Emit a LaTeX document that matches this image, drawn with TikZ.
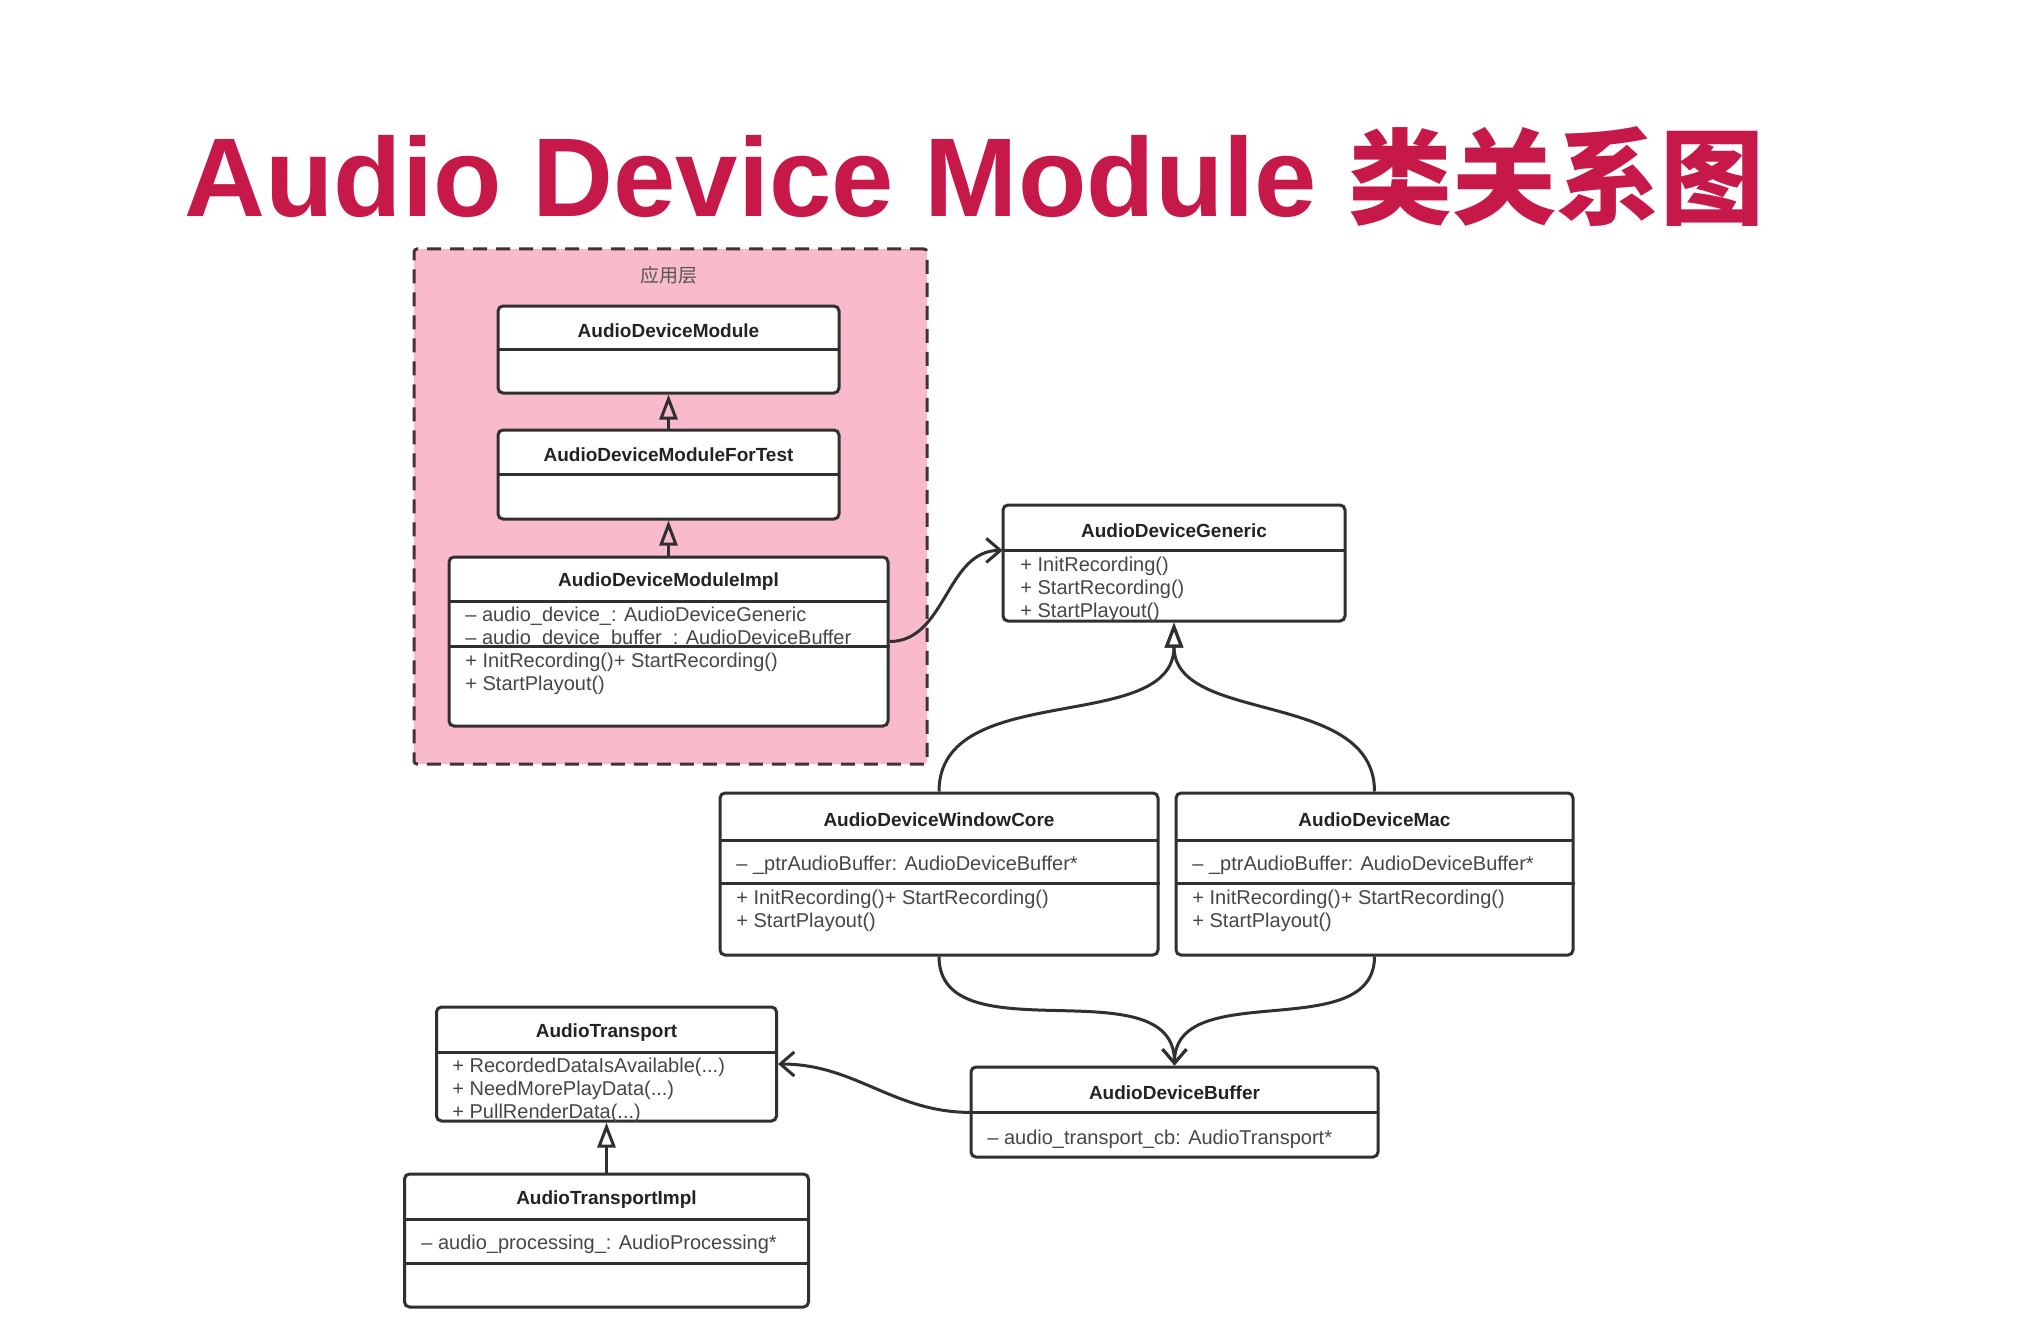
\documentclass[tikz,border=0pt]{standalone}
\usepackage{fontspec}
\setmainfont{Liberation Sans}
\newfontfamily\cjk{Noto Sans CJK SC}
\usetikzlibrary{arrows.meta}
\definecolor{titlered}{RGB}{199,24,74}
\definecolor{layerpink}{RGB}{249,187,204}
\definecolor{dashline}{RGB}{70,48,56}
\definecolor{layertext}{RGB}{85,85,85}
\definecolor{boxline}{RGB}{48,48,48}
\definecolor{hdrtext}{RGB}{35,35,35}
\definecolor{memtext}{RGB}{70,70,70}

\tikzset{
    cls/.style={draw=boxline, line width=1.5pt, rounded corners=2.5pt, fill=white, inner sep=0pt},
    hdr/.style={inner sep=0pt, font=\fontsize{9.5}{11}\selectfont\bfseries, text=hdrtext},
    hdrtxt/.style={yshift=-1.5pt},
    mem/.style={inner sep=0pt, anchor=west, align=left, font=\fontsize{10}{11.5}\selectfont, text=memtext},
    divider/.style={draw=boxline, line width=1.5pt},
    inherit/.style={draw=boxline, line width=1.5pt, -{Triangle[open, width=9pt, length=12.5pt]}},
    assoc/.style={draw=boxline, line width=1.5pt, -{Straight Barb[length=7pt, width=12pt]}},
}

\begin{document}
\begin{tikzpicture}[x=0.5pt, y=-0.5pt]
    \useasboundingbox (0,0) rectangle (2028,1332);
    \fill[white] (0,0) rectangle (2028,1332);

    \node[anchor=base west, inner sep=0pt, text=titlered, font=\fontsize{56}{60}\selectfont\bfseries] (title) at (184,217) {Audio Device Module {\cjk\fontsize{52}{60}\selectfont 类关系图}};

    \node[draw=dashline, fill=layerpink, line width=1.5pt, dash pattern=on 7pt off 4.5pt, rounded corners=1.5pt, minimum width=256.5pt, minimum height=257.5pt] (app) at (670.5,506.5) {};
    \node[text=layertext, font=\cjk\fontsize{9.5}{11}\selectfont] (applabel) at (669,275) {应用层};

    \node[cls, minimum width=170.5pt, minimum height=43.5pt] (adm) at (668.5,349.5) {};
    \node[hdr, minimum width=170.5pt, minimum height=21.5pt] (adm-h) at (668.5,327.5) {};
    \node[hdr, hdrtxt] (adm-t) at (adm-h) {AudioDeviceModule};
    \draw[divider] (adm-h.south west) -- (adm-h.south east);

    \node[cls, minimum width=170.5pt, minimum height=44.5pt] (admtest) at (668.5,474.5) {};
    \node[hdr, minimum width=170.5pt, minimum height=22pt] (admtest-h) at (668.5,452) {};
    \node[hdr, hdrtxt] (admtest-t) at (admtest-h) {AudioDeviceModuleForTest};
    \draw[divider] (admtest-h.south west) -- (admtest-h.south east);

    \node[cls, minimum width=219.5pt, minimum height=84.5pt] (admimpl) at (668.5,641.5) {};
    \node[hdr, minimum width=219.5pt, minimum height=22pt] (admimpl-h) at (668.5,579) {};
    \node[hdr, hdrtxt] (admimpl-t) at (admimpl-h) {AudioDeviceModuleImpl};
    \node[mem] (admimpl-a) at (465,627.5) {– audio\_device\_: AudioDeviceGeneric\\– audio\_device\_buffer\_: AudioDeviceBuffer};
    \node[mem] (admimpl-m) at (465,674) {+ InitRecording()+ StartRecording()\\+ StartPlayout()};
    \draw[divider] (admimpl-h.south west) -- (admimpl-h.south east);
    \draw[divider] (admimpl.west |- 0,646) -- (admimpl.east |- 0,646);

    \node[cls, minimum width=171pt, minimum height=58pt] (gen) at (1174,563) {};
    \node[hdr, minimum width=171pt, minimum height=22.5pt] (gen-h) at (1174,527.5) {};
    \node[hdr, hdrtxt] (gen-t) at (gen-h) {AudioDeviceGeneric};
    \node[mem] (gen-m) at (1020,589.5) {+ InitRecording()\\+ StartRecording()\\+ StartPlayout()};
    \draw[divider] (gen-h.south west) -- (gen-h.south east);

    \node[cls, minimum width=219pt, minimum height=81pt] (wincore) at (939,874) {};
    \node[hdr, minimum width=219pt, minimum height=23.5pt] (wincore-h) at (939,816.5) {};
    \node[hdr, hdrtxt] (wincore-t) at (wincore-h) {AudioDeviceWindowCore};
    \node[mem] (wincore-a) at (736,865) {– \_ptrAudioBuffer: AudioDeviceBuffer*};
    \node[mem] (wincore-m) at (736,911) {+ InitRecording()+ StartRecording()\\+ StartPlayout()};
    \draw[divider] (wincore-h.south west) -- (wincore-h.south east);
    \draw[divider] (wincore.west |- 0,883) -- (wincore.east |- 0,883);

    \node[cls, minimum width=198.5pt, minimum height=81pt] (mac) at (1374.5,874) {};
    \node[hdr, minimum width=198.5pt, minimum height=23.5pt] (mac-h) at (1374.5,816.5) {};
    \node[hdr, hdrtxt] (mac-t) at (mac-h) {AudioDeviceMac};
    \node[mem] (mac-a) at (1192,865) {– \_ptrAudioBuffer: AudioDeviceBuffer*};
    \node[mem] (mac-m) at (1192,911) {+ InitRecording()+ StartRecording()\\+ StartPlayout()};
    \draw[divider] (mac-h.south west) -- (mac-h.south east);
    \draw[divider] (mac.west |- 0,883) -- (mac.east |- 0,883);

    \node[cls, minimum width=203.5pt, minimum height=45pt] (buf) at (1174.5,1112) {};
    \node[hdr, minimum width=203.5pt, minimum height=22.5pt] (buf-h) at (1174.5,1089.5) {};
    \node[hdr, hdrtxt] (buf-t) at (buf-h) {AudioDeviceBuffer};
    \node[mem] (buf-a) at (987,1139) {– audio\_transport\_cb: AudioTransport*};
    \draw[divider] (buf-h.south west) -- (buf-h.south east);

    \node[cls, minimum width=170pt, minimum height=57pt] (trans) at (606.5,1064) {};
    \node[hdr, minimum width=170pt, minimum height=22.5pt] (trans-h) at (606.5,1029.5) {};
    \node[hdr, hdrtxt] (trans-t) at (trans-h) {AudioTransport};
    \node[mem] (trans-m) at (452,1090) {+ RecordedDataIsAvailable(...)\\+ NeedMorePlayData(...)\\+ PullRenderData(...)};
    \draw[divider] (trans-h.south west) -- (trans-h.south east);

    \node[cls, minimum width=202pt, minimum height=66.5pt] (transimpl) at (606.5,1240.5) {};
    \node[hdr, minimum width=202pt, minimum height=22.5pt] (transimpl-h) at (606.5,1196.5) {};
    \node[hdr, hdrtxt] (transimpl-t) at (transimpl-h) {AudioTransportImpl};
    \node[mem] (transimpl-a) at (421,1244.5) {– audio\_processing\_: AudioProcessing*};
    \draw[divider] (transimpl-h.south west) -- (transimpl-h.south east);
    \draw[divider] (transimpl.west |- 0,1263) -- (transimpl.east |- 0,1263);

    \draw[inherit] (admtest) -- (adm);
    \draw[inherit] (admimpl) -- (admtest);
    \draw[assoc] (admimpl.east) to[out=0, in=180] (gen-h.south west);
    \draw[inherit] (wincore.north) to[out=90, in=-90] (gen.south);
    \draw[inherit] (mac.north) to[out=90, in=-90] (gen.south);
    \draw[assoc] (wincore.south) to[out=-90, in=90] (buf.north);
    \draw[assoc] (mac.south) to[out=-90, in=90] (buf.north);
    \draw[assoc] (buf-h.south west) to[out=180, in=0] (trans.east);
    \draw[inherit] (transimpl) -- (trans);
\end{tikzpicture}
\end{document}
